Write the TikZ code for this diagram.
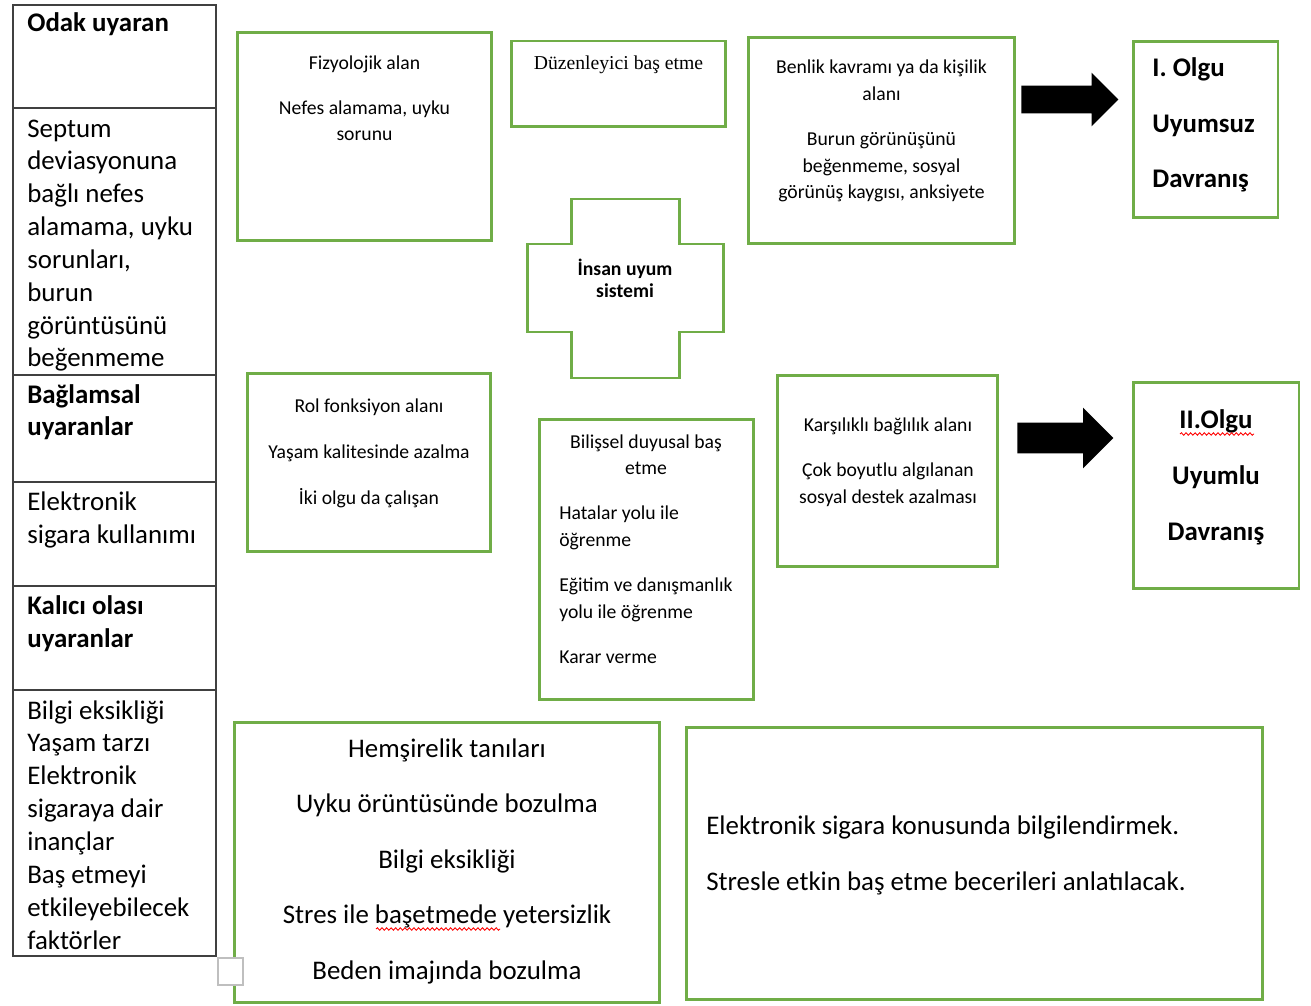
\documentclass[tikz,border=0pt]{standalone}
\usepackage{fontspec}
\setmainfont{Carlito}
\newfontfamily\timesfont{Liberation Serif}
\usetikzlibrary{positioning, arrows.meta, shapes, calc, decorations.pathmorphing}

\definecolor{boxgreen}{HTML}{70AD47}
\newcommand{\bigtxt}{\fontsize{15.3}{18.7}\selectfont}
\newcommand{\smalltxt}{\fontsize{11.2}{15.3}\selectfont}

\begin{document}
\begin{tikzpicture}[
    x=0.02cm, y=-0.02cm,
    cell/.style={rectangle, draw=black!75, line width=0.7pt, minimum width=4.06cm, inner sep=0pt},
    gbox/.style={rectangle, draw=boxgreen, line width=1.7pt, inner sep=0pt},
    celltxt/.style={anchor=base west, align=left, inner sep=0pt, font=\bigtxt},
    txt/.style={anchor=base, align=center, inner sep=0pt, font=\smalltxt},
    olgu/.style={inner sep=0pt, font=\fontsize{15.3}{31.7}\selectfont\bfseries},
    blockarrow/.style={single arrow, fill=black, draw=none, anchor=tail, inner xsep=0pt},
    spellwave/.style={red, line width=0.5pt, decorate, decoration={snake, amplitude=0.7pt, segment length=2.6pt}}
]

\path[fill=white, use as bounding box] (0,0) rectangle (1311,1006);

% Left column (stimuli) -- text nodes sit on the baseline of their last line
\node[cell, minimum height=2.06cm] (odak) at (114.5,56.5) {};
\node[cell, minimum height=5.34cm] (septum) at (114.5,241.5) {};
\node[cell, minimum height=2.14cm] (baglam) at (114.5,428.5) {};
\node[cell, minimum height=2.08cm] (sigara) at (114.5,534) {};
\node[cell, minimum height=2.08cm] (kalici) at (114.5,638) {};
\node[cell, minimum height=5.32cm] (bilgi) at (114.5,823) {};

\node[celltxt, font=\bigtxt\bfseries] (odakT) at (27,32) {Odak uyaran};
\node[celltxt] (septumT) at (27,367) {Septum\\deviasyonuna\\bağlı nefes\\alamama, uyku\\sorunları,\\burun\\görüntüsünü\\beğenmeme};
\node[celltxt, font=\bigtxt\bfseries] (baglamT) at (27,436) {Bağlamsal\\uyaranlar};
\node[celltxt] (sigaraT) at (27,543) {Elektronik\\sigara kullanımı};
\node[celltxt, font=\bigtxt\bfseries] (kaliciT) at (27,647) {Kalıcı olası\\uyaranlar};
\node[celltxt] (bilgiT) at (27,949) {Bilgi eksikliği\\Yaşam tarzı\\Elektronik\\sigaraya dair\\inançlar\\Baş etmeyi\\etkileyebilecek\\faktörler};

% Adaptation modes - top row
\node[gbox, minimum width=5.10cm, minimum height=4.18cm] (fizyo) at (364.5,136.5) {};
\node[txt] (fizyoT) at (364.5,141) {Fizyolojik alan\\[10.2pt]Nefes alamama, uyku\\sorunu};

\node[gbox, minimum width=4.30cm, minimum height=1.72cm] (duzen) at (618.5,84) {};
\node[txt, font=\smalltxt\timesfont] (duzenT) at (618.5,70) {Düzenleyici baş etme};

\node[gbox, minimum width=5.34cm, minimum height=4.14cm] (benlik) at (881.5,140.5) {};
\node[txt] (benlikT) at (881.5,199) {Benlik kavramı ya da kişilik\\alanı\\[10.2pt]Burun görünüşünü\\beğenmeme, sosyal\\görünüş kaygısı, anksiyete};

\node[blockarrow, inner ysep=0.27cm, minimum height=1.94cm, single arrow head extend=0.26cm] (ok1) at (1021,99.5) {};

\node[gbox, minimum width=2.90cm, minimum height=3.54cm] (olgu1) at (1205.5,129.5) {};
\node[olgu, anchor=base west, align=left] (olgu1T) at (1152,188) {I. Olgu\\Uyumsuz\\Davranış};

% Centre cross
\draw[boxgreen, line width=1.7pt] (571,199) -- (679,199) -- (679,244) -- (723,244) -- (723,332) -- (679,332)
    -- (679,378) -- (571,378) -- (571,332) -- (527,332) -- (527,244) -- (571,244) -- cycle;
\node[txt, font=\fontsize{11.2}{13}\selectfont\bfseries] (uyumT) at (625,298) {İnsan uyum\\sistemi};

% Adaptation modes - bottom row
\node[gbox, minimum width=4.88cm, minimum height=3.58cm] (rol) at (369,462.5) {};
\node[txt] (rolT) at (369,504) {Rol fonksiyon alanı\\[10.8pt]Yaşam kalitesinde azalma\\[10.8pt]İki olgu da çalışan};

\node[gbox, minimum width=4.30cm, minimum height=5.62cm] (bilis) at (646.5,559.5) {};
\node[txt] (bilisT) at (646,475) {Bilişsel duyusal baş\\etme};
\node[txt, anchor=base west, align=left] (bilisB) at (559,663) {Hatalar yolu ile\\öğrenme\\[10.2pt]Eğitim ve danışmanlık\\yolu ile öğrenme\\[10.2pt]Karar verme};

\node[gbox, minimum width=4.42cm, minimum height=3.84cm] (karsi) at (887.5,471) {};
\node[txt] (karsiT) at (888,503) {Karşılıklı bağlılık alanı\\[10.2pt]Çok boyutlu algılanan\\sosyal destek azalması};

\node[blockarrow, inner ysep=0.30cm, minimum height=1.92cm, single arrow head extend=0.30cm] (ok2) at (1017,438) {};

\node[gbox, minimum width=3.32cm, minimum height=4.14cm] (olgu2) at (1216,485.5) {};
\node[olgu, anchor=base, align=center] (olgu2T) at (1216,540) {II.Olgu\\Uyumlu\\Davranış};
\draw[spellwave] (1180,434) -- (1254,434);

% Diagnoses and interventions
\node[gbox, minimum width=8.52cm, minimum height=5.62cm] (hemsire) at (447,862.5) {};
\node[anchor=base, align=center, inner sep=0pt, font=\fontsize{15.3}{31.5}\selectfont] (hemsireT) at (447,979)
    {Hemşirelik tanıları\\Uyku örüntüsünde bozulma\\Bilgi eksikliği\\Stres ile başetmede yetersizlik\\Beden imajında bozulma};
\draw[spellwave] (376,929) -- (500,929);

\node[gbox, minimum width=11.54cm, minimum height=5.46cm] (egitim) at (974.5,863.5) {};
\node[anchor=base west, align=left, inner sep=0pt, font=\fontsize{15.3}{31.5}\selectfont] (egitimT) at (706,890)
    {Elektronik sigara konusunda bilgilendirmek.\\Stresle etkin baş etme becerileri anlatılacak.};

\node[draw=black!25, line width=1pt, fill=white, minimum width=0.5cm, minimum height=0.54cm, inner sep=0pt] (tutamac) at (230.5,971.5) {};

\end{tikzpicture}
\end{document}
